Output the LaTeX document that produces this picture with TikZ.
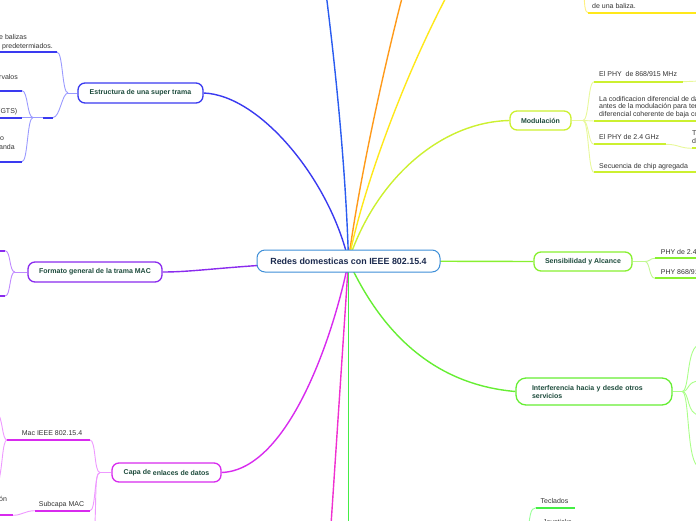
\documentclass[tikz,border=0pt]{standalone}
\usepackage{fontspec}
\setmainfont{Liberation Sans}
\usetikzlibrary{backgrounds}
\definecolor{croot}{HTML}{3E8FD8}
\definecolor{ttitle}{HTML}{1B2A4E}
\definecolor{tnode}{HTML}{1D4B3C}
\definecolor{tleaf}{HTML}{333333}
\definecolor{cestr}{HTML}{3A3AF0}
\definecolor{lestr}{HTML}{9A9AFF}
\definecolor{cfmt}{HTML}{8A2BEE}
\definecolor{lfmt}{HTML}{C08AFF}
\definecolor{ccapa}{HTML}{D82BEE}
\definecolor{lcapa}{HTML}{EE99FF}
\definecolor{cblue}{HTML}{2A5CF0}
\definecolor{corange}{HTML}{FF9A1A}
\definecolor{cyellow}{HTML}{FFE81A}
\definecolor{lyellow}{HTML}{FFF080}
\definecolor{cmod}{HTML}{CCF030}
\definecolor{lmod}{HTML}{E8F89A}
\definecolor{cmag}{HTML}{F030D0}
\definecolor{cgreen}{HTML}{44EE44}
\definecolor{lgreen}{HTML}{99FF99}
\definecolor{csens}{HTML}{88F030}
\definecolor{lsens}{HTML}{C0F890}
\definecolor{cintf}{HTML}{66EE33}
\definecolor{lintf}{HTML}{AAFF88}
\begin{document}
\begin{tikzpicture}[x=1pt,y=-1pt,
  mnode/.style={draw=#1, line width=1.3pt, fill=white, rounded corners=7pt, inner sep=0pt,
    font=\fontsize{7}{8}\selectfont\bfseries, text=tnode, align=center},
  leaf/.style={anchor=base west, inner sep=0pt, font=\fontsize{7}{8}\selectfont, text=tleaf},
  leafc/.style={anchor=base, inner sep=0pt, font=\fontsize{7}{8}\selectfont, text=tleaf},
  uline/.style={draw=#1, line width=2pt},
  conn/.style={draw=#1, line width=0.9pt},
  branch/.style={draw=#1, line width=1.4pt}]
\useasboundingbox (0,0) rectangle (696,520);

% main nodes
\node[mnode=croot, line width=1pt, rounded corners=8pt, minimum width=183pt, minimum height=22pt,
  font=\fontsize{8.9}{10}\selectfont\bfseries, text=ttitle] (root) at (348.5,261) {Redes domesticas con IEEE 802.15.4};
\node[mnode=cestr, minimum width=125pt, minimum height=20pt] (estr) at (140.5,93) {Estructura de una super trama};
\node[mnode=cfmt, minimum width=134pt, minimum height=20pt] (fmt) at (95,272) {Formato general de la trama MAC};
\node[mnode=ccapa, minimum width=109pt, minimum height=19pt] (capa) at (166.5,472.5) {Capa de \raisebox{-1.2pt}{enlaces de datos}};
\node[mnode=cmod, minimum width=61pt, minimum height=19pt] (mod) at (540.5,120.5) {Modulación};
\node[mnode=csens, minimum width=98pt, minimum height=19pt] (sens) at (583,261.5) {Sensibilidad y Alcance};
\node[mnode=cintf, rounded corners=10pt, minimum width=156pt, minimum height=27pt, text width=124pt, align=left] (intf) at (594,391.5) {Interferencia hacia y desde otros\\servicios};

% off-page ends
\coordinate (topA) at (323,-30);
\coordinate (topB) at (408,-25);
\coordinate (topC) at (458,-25);
\coordinate (botA) at (330,540);
\coordinate (botB) at (348.5,545);

% ---- Estructura children
\coordinate (eh) at (68,93);
\coordinate (u1l) at (0,52);   \coordinate (u1r) at (57,52);
\coordinate (u2l) at (0,90.7); \coordinate (u2r) at (22,90.7);
\coordinate (u3l) at (0,117.5);\coordinate (u3r) at (22,117.5);
\coordinate (u4l) at (0,161.7);\coordinate (u4r) at (22,161.7);
\coordinate (usl) at (43,117.5);\coordinate (usr) at (53,117.5);
\coordinate (sh) at (33,117.5);
\node[leaf] (e1a) at (-1,39) {e balizas};
\node[leaf] (e1b) at (2,48) {predetermiados.};
\node[leaf] (e2) at (-1,79) {rvalos};
\node[leaf] (e3) at (-2,113) {(GTS)};
\node[leaf] (e4a) at (0,140.5) {o};
\node[leaf] (e4b) at (-1,149) {anda};

% ---- Formato children
\coordinate (fh) at (15,272);
\coordinate (f1l) at (0,250.7); \coordinate (f1r) at (5,250.7);
\coordinate (f2l) at (0,296);   \coordinate (f2r) at (5,296);

% ---- Capa children
\coordinate (ch) at (100,472.5);
\coordinate (c1l) at (7,440);   \coordinate (c1r) at (90,440);
\coordinate (c1a) at (-3,412);  \coordinate (c1b) at (-3,488);
\coordinate (c2l) at (35,510.7);\coordinate (c2r) at (90,510.7);
\coordinate (c3l) at (-1,515.3);\coordinate (c3r) at (13,515.3);
\coordinate (c4) at (94,540);
\node[leafc] (mac) at (52,435) {Mac IEEE 802.15.4};
\node[leafc] (sub) at (61.5,506) {Subcapa MAC};
\node[leaf] (on) at (-1,501.5) {ón};

% ---- Modulacion children
\coordinate (mh) at (583,120.5);
\coordinate (m1l) at (594,81.7);  \coordinate (m1r) at (683,81.7); \coordinate (m1x) at (700,81);
\coordinate (m2l) at (594,121);   \coordinate (m2r) at (700,121);
\coordinate (m3l) at (594,144.3); \coordinate (m3r) at (666,144.3);
\coordinate (m3c) at (692,148.3); \coordinate (m3d) at (700,148.3);
\coordinate (m4l) at (594,172.3); \coordinate (m4r) at (700,172.3);
\node[leaf] (t1) at (599,76.8) {El PHY\ \ de 868/915 MHz};
\node[leaf] (t2a) at (599,101.2) {La codificacion diferencial de datos se realiza};
\node[leaf] (t2b) at (599,108.7) {antes de la modulación para tener una recepción};
\node[leaf] (t2c) at (599,116) {diferencial coherente de baja complejidad};
\node[leaf] (t3) at (599,139.8) {El PHY de 2.4 GHz};
\node[leaf] (t3a) at (692,135.8) {T};
\node[leaf] (t3b) at (692,143.5) {d};
\node[leaf] (t4) at (599,168.2) {Secuencia de chip agregada};

% ---- top right (yellow branch child)
\coordinate (tl) at (584,-15);
\coordinate (ty1) at (588,12.7); \coordinate (ty2) at (700,12.7);
\node[leaf] (bal) at (592,8) {de una baliza.};

% ---- Sensibilidad children
\coordinate (sh2) at (645,261.5);
\coordinate (s1l) at (655,258.3); \coordinate (s1r) at (700,258.3);
\coordinate (s2l) at (655,278.3); \coordinate (s2r) at (700,278.3);
\node[leaf] (p1) at (660.7,254.2) {PHY de 2.4 GHz};
\node[leaf] (p2) at (660.7,274.2) {PHY 868/915 MHz};

% ---- Interferencia children
\coordinate (ih) at (682,391.5);
\coordinate (i1) at (700,345);
\coordinate (i2) at (700,381);
\coordinate (i3) at (700,415);
\coordinate (i4) at (700,467);

% ---- bottom green child
\coordinate (k1l) at (536,507.7); \coordinate (k1r) at (575,507.7);
\coordinate (kb) at (527,540);
\node[leafc] (tec) at (554.5,503.2) {Teclados};
\node[leaf] (joy) at (543,524.5) {Joysticks};

\begin{scope}[on background layer]
  % branches from root
  \draw[branch=cblue] (root.center) .. controls (346,170) and (335,60) .. (topA);
  \draw[branch=corange] (root.center) .. controls (356,200) and (380,80) .. (topB);
  \draw[branch=cyellow] (root.center) .. controls (360,200) and (400,80) .. (topC);
  \draw[branch=cmod] (root.center) .. controls (375,180) and (440,122) .. (mod.west);
  \draw[branch=cestr] (root.center) .. controls (330,180) and (260,95) .. (estr.east);
  \draw[branch=cfmt] (root.center) .. controls (230,265) and (200,272) .. (fmt.east);
  \draw[branch=ccapa] (root.center) .. controls (335,330) and (290,470) .. (capa.east);
  \draw[branch=cmag] (root.center) -- (botA);
  \draw[branch=cgreen] (root.center) -- (botB);
  \draw[branch=csens] (root.center) -- (sens.west);
  \draw[branch=cintf] (root.center) .. controls (385,340) and (440,385) .. (intf.west);

  % estructura
  \draw[conn=lestr] (estr.west) -- (eh);
  \draw[conn=lestr] (eh) .. controls (62,93) and (63,52) .. (u1r);
  \draw[conn=lestr] (eh) .. controls (62,93) and (60,117.5) .. (usr);
  \draw[conn=lestr] (usl) -- (sh);
  \draw[conn=lestr] (sh) .. controls (27,117.5) and (28,90.7) .. (u2r);
  \draw[conn=lestr] (sh) -- (u3r);
  \draw[conn=lestr] (sh) .. controls (27,117.5) and (28,161.7) .. (u4r);
  \draw[uline=cestr] (u1l) -- (u1r);
  \draw[uline=cestr] (u2l) -- (u2r);
  \draw[uline=cestr] (u3l) -- (u3r);
  \draw[uline=cestr] (u4l) -- (u4r);
  \draw[uline=cestr] (usl) -- (usr);

  % formato
  \draw[conn=lfmt] (fmt.west) -- (fh);
  \draw[conn=lfmt] (fh) .. controls (9,272) and (11,250.7) .. (f1r);
  \draw[conn=lfmt] (fh) .. controls (9,272) and (11,296) .. (f2r);
  \draw[uline=cfmt] (f1l) -- (f1r);
  \draw[uline=cfmt] (f2l) -- (f2r);

  % capa
  \draw[conn=lcapa] (capa.west) -- (ch);
  \draw[conn=lcapa] (ch) .. controls (94,472.5) and (96,440) .. (c1r);
  \draw[conn=lcapa] (ch) .. controls (94,472.5) and (96,510.7) .. (c2r);
  \draw[conn=lcapa] (ch) .. controls (94,472.5) and (97,500) .. (c4);
  \draw[conn=lcapa] (c1l) .. controls (2,440) and (3,418) .. (c1a);
  \draw[conn=lcapa] (c1l) .. controls (2,440) and (3,470) .. (c1b);
  \draw[conn=lcapa] (c2l) .. controls (25,510.7) and (22,515.3) .. (c3r);
  \draw[uline=ccapa] (c1l) -- (c1r);
  \draw[uline=ccapa] (c2l) -- (c2r);
  \draw[uline=ccapa] (c3l) -- (c3r);

  % modulacion
  \draw[conn=lmod] (mod.east) -- (mh);
  \draw[conn=lmod] (mh) .. controls (589,120.5) and (588,81.7) .. (m1l);
  \draw[conn=lmod] (mh) .. controls (589,120.5) and (588,121) .. (m2l);
  \draw[conn=lmod] (mh) .. controls (589,120.5) and (588,144.3) .. (m3l);
  \draw[conn=lmod] (mh) .. controls (589,120.5) and (588,172.3) .. (m4l);
  \draw[conn=lmod] (m1r) -- (m1x);
  \draw[conn=lmod] (m3r) .. controls (678,144.3) and (680,148.3) .. (m3c);
  \draw[uline=cmod] (m1l) -- (m1r);
  \draw[uline=cmod] (m2l) -- (m2r);
  \draw[uline=cmod] (m3l) -- (m3r);
  \draw[uline=cmod] (m3c) -- (m3d);
  \draw[uline=cmod] (m4l) -- (m4r);

  % top right
  \draw[conn=lyellow] (tl) .. controls (584,5) and (585,12.7) .. (ty1);
  \draw[uline=cyellow] (ty1) -- (ty2);

  % sensibilidad
  \draw[conn=lsens] (sens.east) -- (sh2);
  \draw[conn=lsens] (sh2) .. controls (650,261.5) and (650,258.3) .. (s1l);
  \draw[conn=lsens] (sh2) .. controls (650,261.5) and (649,278.3) .. (s2l);
  \draw[uline=csens] (s1l) -- (s1r);
  \draw[uline=csens] (s2l) -- (s2r);

  % interferencia
  \draw[conn=lintf] (intf.east) -- (ih);
  \draw[conn=lintf] (ih) .. controls (690,391.5) and (686,345) .. (i1);
  \draw[conn=lintf] (ih) .. controls (690,391.5) and (686,381) .. (i2);
  \draw[conn=lintf] (ih) .. controls (690,391.5) and (686,415) .. (i3);
  \draw[conn=lintf] (ih) .. controls (690,391.5) and (686,467) .. (i4);

  % teclados
  \draw[conn=lgreen] (k1l) .. controls (530,508) and (530,515) .. (kb);
  \draw[uline=cgreen] (k1l) -- (k1r);
\end{scope}
\end{tikzpicture}
\end{document}
